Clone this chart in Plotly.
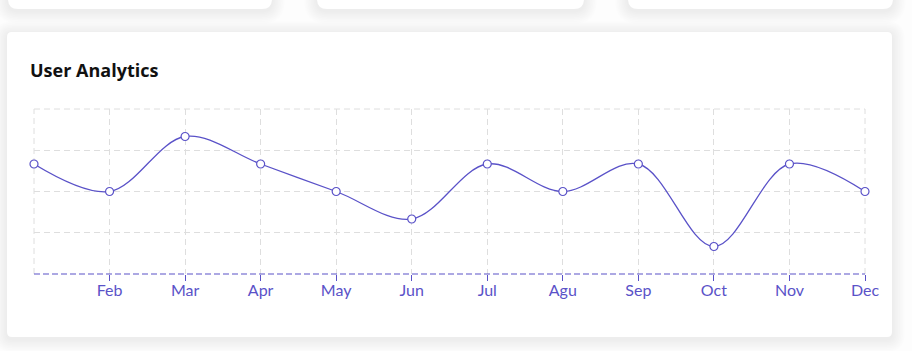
import plotly.graph_objects as go

months = ["Jan", "Feb", "Mar", "Apr", "May", "Jun", "Jul", "Agu", "Sep", "Oct", "Nov", "Dec"]
tick_labels = ["Feb", "Mar", "Apr", "May", "Jun", "Jul", "Agu", "Sep", "Oct", "Nov", "Dec"]
users = [40, 30, 50, 40, 30, 20, 40, 30, 40, 10, 40, 30]
y_ticks = [0, 15, 30, 45, 60]

W, H = 912, 351
L, R, T, B = 34, 865, 109, 274
PW, PH = R - L, B - T
PURPLE = "#5a52c8"
GRID = "#dedede"
GDASH = "6px,4px"

def px(x):
    return (x - L) / PW

def py(y):
    return (B - y) / PH

def rrect(x0, y0, x1, y1, r):
    rx, ry = r / PW, r / PH
    X0, X1 = px(x0), px(x1)
    Y0, Y1 = py(y0), py(y1)
    return (f"M {X0+rx},{Y0} L {X1-rx},{Y0} Q {X1},{Y0} {X1},{Y0-ry} "
            f"L {X1},{Y1+ry} Q {X1},{Y1} {X1-rx},{Y1} L {X0+rx},{Y1} "
            f"Q {X0},{Y1} {X0},{Y1+ry} L {X0},{Y0-ry} Q {X0},{Y0} {X0+rx},{Y0} Z")

shapes = []
cards = [(8, -30, 272, 9, 10), (317, -30, 584, 9, 10), (628, -30, 893, 9, 10), (7, 32, 892, 337, 5)]
for (x0, y0, x1, y1, r) in cards:
    for k in range(8, 0, -1):
        e = k * 1.6
        shapes.append(dict(type="path", xref="paper", yref="paper", layer="below",
                           path=rrect(x0 - e, y0 - e + 2, x1 + e, y1 + e + 2, r + e),
                           fillcolor="rgba(0,0,0,0.0065)", line=dict(width=0)))
    shapes.append(dict(type="path", xref="paper", yref="paper", layer="below",
                       path=rrect(x0, y0, x1, y1, r), fillcolor="#ffffff", line=dict(width=0)))

# edge grid lines (top, left, right) that plotly omits at range limits
shapes.append(dict(type="line", xref="paper", yref="paper", x0=0, x1=1, y0=1, y1=1,
                   line=dict(color=GRID, width=1, dash=GDASH), layer="below"))
shapes.append(dict(type="line", xref="paper", yref="paper", x0=0, x1=0, y0=0, y1=1,
                   line=dict(color=GRID, width=1, dash=GDASH), layer="below"))
shapes.append(dict(type="line", xref="paper", yref="paper", x0=1, x1=1, y0=0, y1=1,
                   line=dict(color=GRID, width=1, dash=GDASH), layer="below"))
# dashed axis line
shapes.append(dict(type="line", xref="paper", yref="paper", x0=0, x1=1, y0=0, y1=0,
                   line=dict(color=PURPLE, width=1.2, dash="6px,3px"), layer="above"))

fig = go.Figure()
fig.add_trace(go.Scatter(
    x=months, y=users, mode="lines+markers",
    line=dict(color=PURPLE, width=1.3, shape="spline", smoothing=1.0),
    marker=dict(symbol="circle", size=8, color="#ffffff", line=dict(color=PURPLE, width=1.2)),
    cliponaxis=False, hoverinfo="x+y",
))

fig.update_layout(
    width=W, height=H,
    margin=dict(l=L, r=W - R, t=T, b=H - B),
    paper_bgcolor="#fdfdfd", plot_bgcolor="rgba(0,0,0,0)",
    showlegend=False,
    shapes=shapes,
    font=dict(family="Lato, 'Open Sans', sans-serif"),
    annotations=[dict(text="<b>User Analytics</b>", xref="paper", yref="paper",
                      x=px(28), y=py(70), xanchor="left", yanchor="middle",
                      showarrow=False, font=dict(size=18, color="#111111",
                                                 family="'Open Sans', sans-serif"))],
)
fig.update_xaxes(
    type="category", range=[0, len(months) - 1],
    tickmode="array", tickvals=months[1:], ticktext=tick_labels,
    showgrid=True, gridcolor=GRID, griddash=GDASH, gridwidth=1,
    zeroline=False, showline=False,
    ticks="outside", ticklen=6, tickcolor=PURPLE, tickwidth=1,
    ticklabelstandoff=-4,
    tickfont=dict(size=16, color=PURPLE),
)
fig.update_yaxes(
    range=[0, 60], tickmode="array", tickvals=y_ticks, showticklabels=False,
    showgrid=True, gridcolor=GRID, griddash=GDASH, gridwidth=1,
    zeroline=False, showline=False,
)
fig.write_html("out.html")
